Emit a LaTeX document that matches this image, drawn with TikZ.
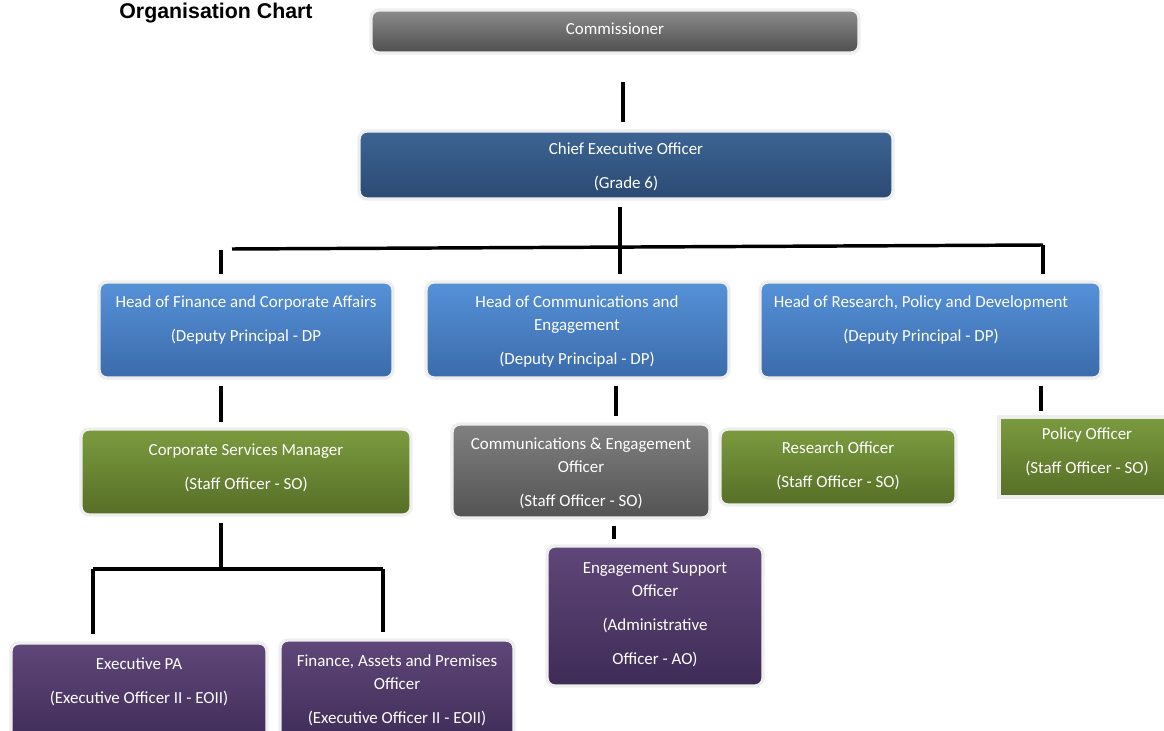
\documentclass[tikz,border=0pt]{standalone}
\usepackage{fontspec}
\setmainfont{Carlito}
\newfontfamily\titlefont{Liberation Sans}
\usetikzlibrary{calc}
\definecolor{cmtop}{HTML}{8C8C8C}\definecolor{cmbot}{HTML}{4E4E4E}
\definecolor{ceotop}{HTML}{3C6494}\definecolor{ceobot}{HTML}{2B4A72}
\definecolor{hdtop}{HTML}{5691D8}\definecolor{hdbot}{HTML}{3B6BAB}
\definecolor{grtop}{HTML}{7B9B3F}\definecolor{grbot}{HTML}{566E26}
\definecolor{gytop}{HTML}{808080}\definecolor{gybot}{HTML}{535353}
\definecolor{pptop}{HTML}{5F4779}\definecolor{ppbot}{HTML}{3E2B56}
\definecolor{glow}{HTML}{EEEEEE}
\begin{document}
\begin{tikzpicture}[x=0.75pt,y=-0.75pt,
  box/.style={rounded corners=6pt, draw=glow, line width=2.5pt, inner sep=0pt},
  sz/.style 2 args={minimum width={#1*0.75pt}, minimum height={#2*0.75pt}},
  txt/.style={text=white, align=center, font=\fontsize{12.7pt}{17pt}\selectfont, inner sep=0pt},
  conn/.style={line width=2.6pt, draw=black},
  cmfill/.style={top color=cmtop, bottom color=cmbot},
  ceofill/.style={top color=ceotop, bottom color=ceobot},
  hdfill/.style={top color=hdtop, bottom color=hdbot},
  grfill/.style={top color=grtop, bottom color=grbot},
  gyfill/.style={top color=gytop, bottom color=gybot},
  ppfill/.style={top color=pptop, bottom color=ppbot}]
\useasboundingbox (0,0) rectangle (1164,731);

\node[font=\titlefont\bfseries\fontsize{16pt}{18pt}\selectfont] (title) at (216,13) {Organisation Chart};

% boxes
\node[box, cmfill, sz={488}{43}] (comm) at (615,31.5) {};
\node[box, ceofill, sz={534}{68}] (ceo) at (626,165) {};
\node[box, hdfill, sz={294}{96}] (hf) at (246,330) {};
\node[box, hdfill, sz={303}{96}] (hc) at (577.5,330) {};
\node[box, hdfill, sz={341}{96}] (hr) at (930.5,330) {};
\node[box, grfill, sz={330}{86}] (csm) at (246,472) {};
\node[box, gyfill, sz={258}{94}] (ceoff) at (581,471) {};
\node[box, grfill, sz={236}{76}] (ro) at (838,467) {};
\node[box, grfill, sz={176}{80}, rounded corners=0pt] (po) at (1087,457) {};
\node[box, ppfill, sz={216}{140}] (eso) at (655,616) {};
\node[box, ppfill, sz={256}{104}] (epa) at (139,695) {};
\node[box, ppfill, sz={234}{106}] (fap) at (397,693) {};

% texts
\node[txt] (comm-t) at (615,29) {Commissioner};
\node[txt] (ceo-t) at (626,167) {Chief Executive Officer\\[8.5pt](Grade 6)};
\node[txt] (hf-t) at (246,319.5) {Head of Finance and Corporate Affairs\\[8.5pt](Deputy Principal - DP};
\node[txt] (hc-t) at (577,331.5) {Head of Communications and\\Engagement\\[8.5pt](Deputy Principal - DP)};
\node[txt] (hr-t) at (921,319.5) {Head of Research, Policy and Development\\[8.5pt](Deputy Principal - DP)};
\node[txt] (csm-t) at (246,467.5) {Corporate Services Manager\\[8.5pt](Staff Officer - SO)};
\node[txt] (ceoff-t) at (581,473) {Communications \& Engagement\\Officer\\[8.5pt](Staff Officer - SO)};
\node[txt] (ro-t) at (838,466) {Research Officer\\[8.5pt](Staff Officer - SO)};
\node[txt] (po-t) at (1087,451.5) {Policy Officer\\[8.5pt](Staff Officer - SO)};
\node[txt] (eso-t) at (655,615) {Engagement Support\\Officer\\[8.5pt](Administrative\\[8.5pt]Officer - AO)};
\node[txt] (epa-t) at (139,681.5) {Executive PA\\[8.5pt](Executive Officer II - EOII)};
\node[txt] (fap-t) at (397,690.5) {Finance, Assets and Premises\\Officer\\[8.5pt](Executive Officer II - EOII)};

% connectors
\coordinate (bl) at (232,249);
\coordinate (br) at (1043,245);
\coordinate (jl) at (93,569);
\coordinate (jr) at (383,569);
\coordinate (jm) at (221,569);
\draw[conn] ($(comm.south)+(8,27)$) -- ($(ceo.north)+(-3,-7)$);
\draw[conn] ($(ceo.south)+(-6,6)$) -- ($(hc.north)+(42.5,-6)$);
\draw[conn] (bl) -- (br);
\draw[conn] ($(hf.north)+(-25,-30)$) -- ($(hf.north)+(-25,-6)$);
\draw[conn] (br) -- ($(hr.north)+(112.5,-6)$);
\draw[conn] ($(hf.south)+(-25,6)$) -- ($(csm.north)+(-25,-5)$);
\draw[conn] ($(hc.south)+(38.5,6)$) -- ($(ceoff.north)+(35,-6)$);
\draw[conn] ($(hr.south)+(110.5,6)$) -- ($(po.north)+(-46,-4)$);
\draw[conn] ($(csm.south)+(-25,6)$) -- (jm);
\draw[conn] (jl) -- (jr);
\draw[conn] (jl) -- ($(epa.north)+(-46,-7)$);
\draw[conn] (jr) -- ($(fap.north)+(-14,-6)$);
\draw[conn] ($(ceoff.south)+(33,6)$) -- ($(eso.north)+(-41,-5)$);
\end{tikzpicture}
\end{document}
